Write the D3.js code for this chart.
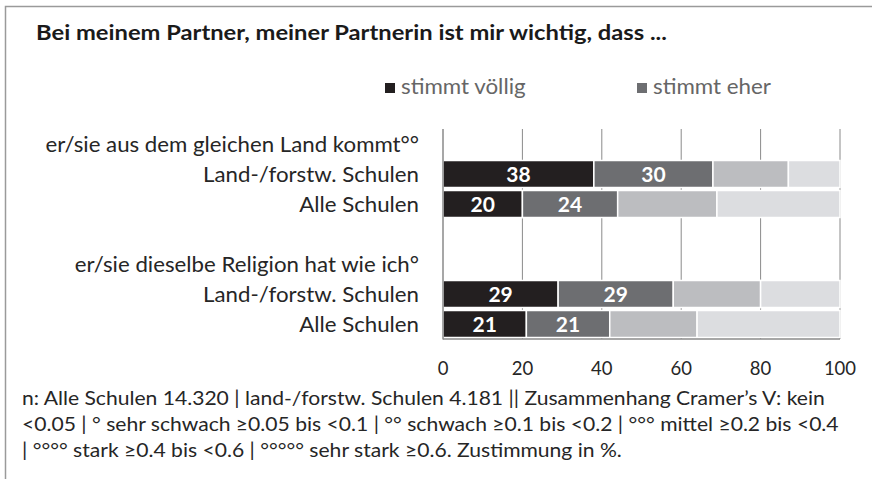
<!DOCTYPE html>
<html lang="de">
<head>
<meta charset="UTF-8">
<script src="https://d3js.org/d3.v7.min.js"></script>
<title>Partner</title>
<style>
  body { margin: 0; background: #fff; }
  svg text { font-family: Lato, "Open Sans", sans-serif; }
</style>
</head>
<body>
<div id="chart"></div>
<script>
const width = 872, height = 479;

const titleText = "Bei meinem Partner, meiner Partnerin ist mir wichtig, dass ...";
const rowLabels = [
  "er/sie aus dem gleichen Land kommt°°",
  "Land-/forstw. Schulen",
  "Alle Schulen",
  "",
  "er/sie dieselbe Religion hat wie ich°",
  "Land-/forstw. Schulen",
  "Alle Schulen"
];
const rowKeys = ["h1", "r1", "r2", "gap", "h2", "r3", "r4"];
const seriesNames = ["stimmt völlig", "stimmt eher", "stimmt eher nicht", "stimmt gar nicht"];
const legendNames = ["stimmt völlig", "stimmt eher"];
const values = {
  r1: [38, 30, 19, 13],
  r2: [20, 24, 25, 31],
  r3: [29, 29, 22, 20],
  r4: [21, 21, 22, 36]
};
const xTicks = [0, 20, 40, 60, 80, 100];
const footLines = [
  "n: Alle Schulen 14.320 | land-/forstw. Schulen 4.181 || Zusammenhang Cramer’s V: kein",
  "<0.05 | ° sehr schwach ≥0.05 bis <0.1 | °° schwach ≥0.1 bis <0.2 | °°° mittel ≥0.2 bis <0.4",
  "| °°°° stark ≥0.4 bis <0.6 | °°°°° sehr stark ≥0.6. Zustimmung in %."
];

const colors = ["#231f20", "#6d6e71", "#bcbdc0", "#dcdde0"];

// stretch text a little so Lato matches the wider original typeface
function stretch(sel, factor) {
  sel.each(function () {
    const w = this.getComputedTextLength();
    if (w > 0) {
      d3.select(this)
        .attr("textLength", w * factor)
        .attr("lengthAdjust", "spacingAndGlyphs");
    }
  });
}

const svg = d3.select("#chart").append("svg")
  .attr("width", width)
  .attr("height", height);

// frame
svg.append("path")
  .attr("d", `M5.5,${height} V6.5 H${width}`)
  .attr("fill", "none")
  .attr("stroke", "#9a9a9a")
  .attr("stroke-width", 1.5);

svg.append("text")
  .attr("x", 36).attr("y", 40)
  .attr("font-size", 21).attr("font-weight", "bold")
  .attr("fill", "#1a1a1a")
  .text(titleText)
  .call(stretch, 1.13);

const x = d3.scaleLinear().domain([0, 100]).range([443, 840]);
const y = d3.scaleBand().domain(rowKeys).range([129, 339]).paddingInner(0.1).paddingOuter(0.05);

// legend
const legendX = [385, 637];
legendNames.forEach((name, i) => {
  const g = svg.append("g").attr("transform", `translate(${legendX[i]},83)`);
  g.append("rect").attr("width", 10).attr("height", 10).attr("fill", colors[i]);
  g.append("text").attr("x", 16).attr("y", 11)
    .attr("font-size", 20.5).attr("fill", "#666")
    .text(name)
    .call(stretch, 1.09);
});

// grid
svg.append("g").selectAll("line")
  .data(xTicks.slice(1))
  .join("line")
  .attr("x1", d => x(d)).attr("x2", d => x(d))
  .attr("y1", 129).attr("y2", 339)
  .attr("stroke", "#8a8a8a").attr("stroke-width", 1);

// bars
const barRows = rowKeys.filter(k => values[k]);
barRows.forEach(k => {
  let acc = 0;
  const segs = values[k].map((v, i) => {
    const s = { key: k, i, v, x0: acc, x1: acc + v };
    acc += v;
    return s;
  });
  const g = svg.append("g");
  g.selectAll("rect")
    .data(segs)
    .join("rect")
    .attr("x", d => x(d.x0))
    .attr("y", y(k))
    .attr("width", d => x(d.x1) - x(d.x0))
    .attr("height", y.bandwidth())
    .attr("fill", d => colors[d.i])
    .attr("stroke", "#fff")
    .attr("stroke-width", 1.5);
  g.selectAll("text")
    .data(segs.filter(d => d.i < 2))
    .join("text")
    .attr("x", d => x((d.x0 + d.x1) / 2))
    .attr("y", y(k) + y.bandwidth() / 2 + 7.5)
    .attr("text-anchor", "middle")
    .attr("font-size", 21).attr("font-weight", "bold")
    .attr("fill", "#fff")
    .text(d => d.v);
});

// axes lines
svg.append("line")
  .attr("x1", x(0)).attr("x2", x(0)).attr("y1", 129).attr("y2", 339.5)
  .attr("stroke", "#8a8a8a").attr("stroke-width", 1.5);
svg.append("line")
  .attr("x1", x(0)).attr("x2", x(100)).attr("y1", 339).attr("y2", 339)
  .attr("stroke", "#8a8a8a").attr("stroke-width", 1.5);

// row labels
svg.append("g").selectAll("text")
  .data(rowKeys)
  .join("text")
  .attr("x", 419)
  .attr("y", d => y(d) + y.bandwidth() / 2 + 7.5)
  .attr("text-anchor", "end")
  .attr("font-size", 20.5).attr("fill", "#262626")
  .text((d, i) => rowLabels[i])
  .call(stretch, 1.085);

// x tick labels
svg.append("g").selectAll("text")
  .data(xTicks)
  .join("text")
  .attr("x", d => x(d))
  .attr("y", 375)
  .attr("text-anchor", "middle")
  .attr("font-size", 18.5).attr("fill", "#262626")
  .text(d => d);

// footnote
svg.append("g").selectAll("text")
  .data(footLines)
  .join("text")
  .attr("x", 22)
  .attr("y", (d, i) => 405 + i * 26)
  .attr("font-size", 19).attr("fill", "#262626")
  .text(d => d)
  .call(stretch, 1.11);
</script>
</body>
</html>
